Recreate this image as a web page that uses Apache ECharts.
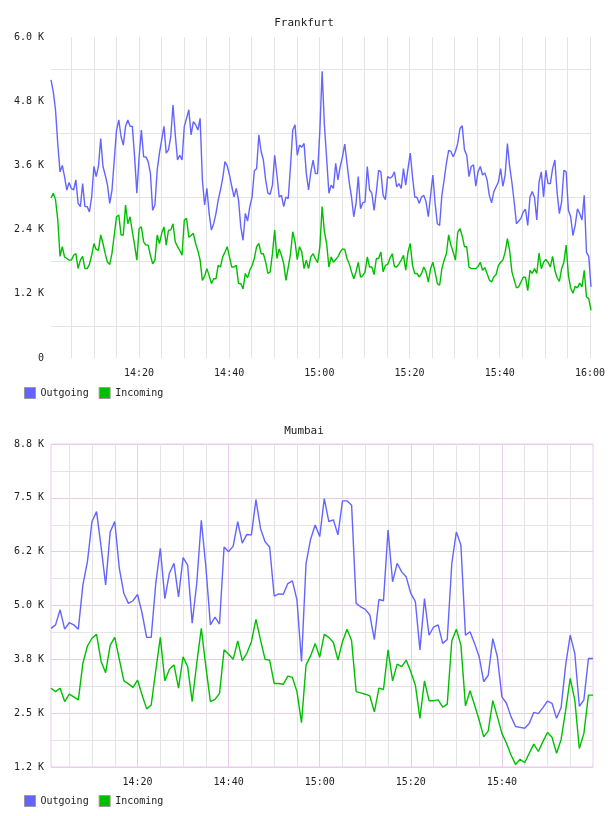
<!DOCTYPE html>
<html>
<head>
<meta charset="utf-8">
<script src="https://cdn.jsdelivr.net/npm/echarts@6/dist/echarts.min.js"></script>
<style>
  html, body { margin: 0; padding: 0; background: #fff; }
  #chart { width: 608px; height: 816px; }
</style>
</head>
<body>
<div id="chart"></div>
<script>
// Frankfurt: one sample every 30 s from 14:00:30 to 16:00:00 (values in K)
const frankfurtOutgoing = [
  5.2, 4.98, 4.64, 4.0, 3.48, 3.6, 3.39, 3.14, 3.28, 3.17,
  3.14, 3.33, 2.89, 2.83, 3.26, 2.83, 2.83, 2.73, 3.01, 3.58,
  3.39, 3.58, 4.1, 3.58, 3.42, 3.23, 2.89, 3.14, 3.7, 4.26,
  4.45, 4.14, 3.98, 4.33, 4.45, 4.33, 4.33, 3.76, 3.08, 3.76,
  4.26, 3.76, 3.76, 3.67, 3.45, 2.76, 2.86, 3.51, 3.83, 4.08,
  4.33, 3.83, 3.89, 4.14, 4.73, 4.17, 3.7, 3.79, 3.7, 4.33,
  4.48, 4.64, 4.17, 4.42, 4.36, 4.26, 4.48, 3.33, 2.86, 3.17,
  2.7, 2.39, 2.51, 2.7, 2.95, 3.14, 3.36, 3.67, 3.59, 3.42,
  3.21, 3.01, 3.17, 2.95, 2.45, 2.2, 2.7, 2.56, 2.83, 3.01,
  3.5, 3.54, 4.17, 3.86, 3.7, 3.33, 3.08, 3.06, 3.23, 3.79,
  3.42, 3.01, 3.04, 2.83, 3.01, 2.98, 3.58, 4.26, 4.36, 3.79,
  3.98, 3.94, 4.01, 3.45, 3.14, 3.48, 3.7, 3.45, 3.45, 4.26,
  5.36, 4.36, 3.73, 3.08, 3.23, 3.17, 3.64, 3.33, 3.58, 3.76,
  4.0, 3.64, 3.28, 3.01, 2.64, 2.89, 3.39, 2.79, 2.9, 2.92,
  3.58, 3.14, 3.08, 2.76, 3.11, 3.51, 3.48, 3.04, 2.96, 3.39,
  3.36, 3.39, 3.48, 3.2, 3.26, 3.17, 3.54, 3.23, 3.54, 3.83,
  3.39, 3.01, 3.0, 2.89, 3.01, 3.04, 2.92, 2.64, 3.04, 3.42,
  2.89, 2.51, 2.48, 3.04, 3.33, 3.64, 3.88, 3.86, 3.76, 3.86,
  4.01, 4.29, 4.34, 3.89, 3.79, 3.39, 3.58, 3.61, 3.21, 3.48,
  3.58, 3.42, 3.46, 3.33, 3.04, 2.9, 3.11, 3.2, 3.29, 3.54,
  3.21, 3.42, 4.01, 3.58, 3.28, 2.92, 2.51, 2.56, 2.61, 2.73,
  2.78, 2.48, 3.01, 3.11, 3.0, 2.58, 3.29, 3.48, 3.01, 3.51,
  3.26, 3.26, 3.54, 3.7, 3.09, 2.7, 2.92, 3.51, 3.48, 2.76,
  2.64, 2.29, 2.48, 2.79, 2.7, 2.58, 3.04, 1.98, 1.9, 1.33
]
const frankfurtIncoming = [
  2.99, 3.08, 2.96, 2.58, 1.9, 2.08, 1.89, 1.86, 1.83, 1.83,
  1.92, 1.95, 1.67, 1.83, 1.9, 1.67, 1.67, 1.75, 1.92, 2.14,
  2.03, 2.01, 2.3, 2.14, 1.95, 1.79, 1.75, 1.96, 2.3, 2.64,
  2.67, 2.3, 2.3, 2.86, 2.51, 2.64, 2.36, 2.11, 1.83, 2.42,
  2.45, 2.17, 2.11, 2.11, 1.92, 1.76, 1.83, 2.3, 2.14, 2.33,
  2.45, 2.11, 2.39, 2.39, 2.51, 2.17, 2.08, 2.01, 1.92, 2.58,
  2.61, 2.26, 2.29, 2.33, 2.14, 2.01, 1.83, 1.45, 1.53, 1.67,
  1.54, 1.39, 1.48, 1.48, 1.73, 1.7, 1.89, 1.98, 2.08, 1.89,
  1.7, 1.7, 1.73, 1.39, 1.39, 1.29, 1.58, 1.5, 1.64, 1.73,
  1.86, 2.08, 2.14, 1.95, 1.95, 1.79, 1.58, 1.61, 1.95, 2.39,
  1.86, 2.04, 1.92, 1.76, 1.45, 1.7, 1.94, 2.36, 2.17, 1.84,
  2.08, 1.98, 1.67, 1.83, 1.67, 1.89, 1.95, 1.86, 1.78, 2.08,
  2.83, 2.36, 2.14, 1.7, 1.89, 1.79, 1.84, 1.89, 1.98, 2.04,
  2.03, 1.86, 1.76, 1.61, 1.48, 1.61, 1.79, 1.51, 1.54, 1.61,
  1.89, 1.7, 1.7, 1.56, 1.86, 1.86, 1.98, 1.61, 1.73, 1.75,
  1.86, 1.95, 1.71, 1.7, 1.76, 1.83, 1.92, 1.64, 1.98, 2.14,
  1.73, 1.58, 1.58, 1.51, 1.58, 1.7, 1.61, 1.42, 1.67, 1.79,
  1.61, 1.39, 1.36, 1.67, 1.83, 1.95, 2.3, 2.11, 1.98, 1.83,
  2.35, 2.42, 2.28, 2.08, 2.08, 1.7, 1.67, 1.67, 1.67, 1.71,
  1.79, 1.64, 1.69, 1.58, 1.46, 1.42, 1.52, 1.56, 1.73, 1.79,
  1.83, 1.98, 2.23, 2.01, 1.61, 1.46, 1.31, 1.33, 1.42, 1.51,
  1.51, 1.26, 1.64, 1.58, 1.67, 1.58, 1.96, 1.67, 1.79, 1.84,
  1.79, 1.7, 1.9, 1.64, 1.5, 1.43, 1.67, 1.79, 2.11, 1.54,
  1.31, 1.21, 1.34, 1.31, 1.4, 1.33, 1.64, 1.14, 1.11, 0.89
]

// Mumbai: one sample per minute from 14:01 to 16:00 (values in K)
const mumbaiOutgoing = [
  4.47, 4.55, 4.9, 4.45, 4.6, 4.55, 4.45, 5.48, 6.02, 6.95,
  7.18, 6.36, 5.48, 6.71, 6.95, 5.86, 5.28, 5.05, 5.11, 5.26,
  4.82, 4.26, 4.26, 5.51, 6.33, 5.16, 5.75, 5.98, 5.2, 6.11,
  5.94, 4.59, 5.51, 6.98, 5.9, 4.55, 4.73, 4.57, 6.36, 6.25,
  6.38, 6.95, 6.45, 6.65, 6.64, 7.46, 6.79, 6.48, 6.36, 5.22,
  5.27, 5.26, 5.51, 5.57, 5.13, 3.7, 5.98, 6.54, 6.87, 6.6,
  7.48, 6.95, 6.99, 6.64, 7.43, 7.43, 7.33, 5.05, 4.97, 4.91,
  4.78, 4.21, 5.14, 5.11, 6.75, 5.55, 5.98, 5.78, 5.66, 5.28,
  5.09, 3.97, 5.16, 4.31, 4.5, 4.55, 4.12, 4.21, 5.98, 6.71,
  6.4, 4.31, 4.39, 4.12, 3.81, 3.23, 3.38, 4.23, 3.81, 2.88,
  2.73, 2.42, 2.19, 2.17, 2.15, 2.26, 2.52, 2.49, 2.63, 2.78,
  2.73, 2.38, 2.63, 3.62, 4.31, 3.89, 2.66, 2.81, 3.77, 3.77
]
const mumbaiIncoming = [
  3.08, 3.0, 3.08, 2.77, 2.94, 2.88, 2.81, 3.66, 4.06, 4.24,
  4.33, 3.7, 3.44, 4.08, 4.26, 3.75, 3.25, 3.18, 3.1, 3.27,
  2.92, 2.6, 2.69, 3.49, 4.26, 3.25, 3.52, 3.62, 3.08, 3.81,
  3.58, 2.77, 3.66, 4.47, 3.58, 2.77, 2.82, 2.96, 3.97, 3.87,
  3.75, 4.18, 3.72, 3.89, 4.16, 4.68, 4.2, 3.75, 3.73, 3.19,
  3.19, 3.17, 3.36, 3.33, 3.0, 2.28, 3.62, 3.83, 4.12, 3.8,
  4.33, 4.26, 4.14, 3.73, 4.16, 4.45, 4.18, 3.0, 2.97, 2.94,
  2.9, 2.53, 3.08, 3.05, 3.97, 3.25, 3.64, 3.58, 3.73, 3.46,
  3.15, 2.38, 3.25, 2.79, 2.79, 2.81, 2.64, 2.71, 4.18, 4.45,
  4.08, 2.67, 3.02, 2.69, 2.34, 1.95, 2.09, 2.79, 2.42, 2.03,
  1.8, 1.53, 1.31, 1.43, 1.35, 1.57, 1.78, 1.61, 1.84, 2.05,
  1.94, 1.57, 1.89, 2.57, 3.31, 2.81, 1.68, 2.03, 2.92, 2.92
]

const frankfurtTickLabels = ['0', '1.2 K', '2.4 K', '3.6 K', '4.8 K', '6.0 K']
const mumbaiTickLabels = ['1.2 K', '2.5 K', '3.8 K', '5.0 K', '6.2 K', '7.5 K', '8.8 K']

// x values are minutes after 14:00
const frankfurtStep = 0.5
const frankfurtFirst = 0.5
const mumbaiStep = 1
const mumbaiFirst = 1

const toPairs = (values, first, step) => values.map((v, i) => [first + i * step, v])

const FONT = 'DejaVu Sans Mono'
const BLUE = '#6464ff'
const GREEN = '#00bf00'
const GRAY = '#e4e4e4'
const PINK = '#e8cce8'

const pad = (n) => (n < 10 ? '0' + n : '' + n)

const timeLabel = (showEnd) => (v) => {
  if (v <= 0) return ''
  if (v >= 120 && !showEnd) return ''
  const h = 14 + Math.floor(v / 60)
  const m = Math.round(v % 60)
  return pad(h) + ':' + pad(m)
}

const labelStyle = { fontFamily: FONT, fontSize: 10, color: '#222' }

const chart = echarts.init(document.getElementById('chart'))

// the "clock" grids span 14:00..16:00 and carry the time grid lines and labels;
// the data grids start at the first sample, as the original plots do
const topPlot = { top: 37, height: 321, right: 17 }
const bottomPlot = { top: 444, height: 323, right: 15 }
const topPxPerMin = (608 - 17 - 51) / (120 - frankfurtFirst)
const bottomPxPerMin = (608 - 15 - 51) / (120 - mumbaiFirst)

const option = {
  animation: false,
  textStyle: { fontFamily: FONT },
  title: [
    { text: 'Frankfurt', left: 'center', top: 13, textStyle: { fontFamily: FONT, fontSize: 11, fontWeight: 'normal', color: '#222' } },
    { text: 'Mumbai', left: 'center', top: 421, textStyle: { fontFamily: FONT, fontSize: 11, fontWeight: 'normal', color: '#222' } }
  ],
  legend: [
    {
      left: 24, top: 387, padding: 0, itemWidth: 11, itemHeight: 11, itemGap: 10,
      icon: 'rect', data: ['Outgoing', 'Incoming'], selectedMode: false,
      itemStyle: { borderColor: '#999', borderWidth: 1 },
      textStyle: labelStyle
    },
    {
      left: 24, top: 795, padding: 0, itemWidth: 11, itemHeight: 11, itemGap: 10,
      icon: 'rect', data: ['Outgoing', 'Incoming'], selectedMode: false,
      itemStyle: { borderColor: '#999', borderWidth: 1 },
      textStyle: labelStyle
    }
  ],
  grid: [
    { left: 51, right: topPlot.right, top: topPlot.top, height: topPlot.height, show: false },
    { left: 51 - frankfurtFirst * topPxPerMin, right: topPlot.right, top: topPlot.top, height: topPlot.height, show: false },
    { left: 51, right: bottomPlot.right, top: bottomPlot.top, height: bottomPlot.height, show: true, borderColor: PINK, borderWidth: 1 },
    { left: 51 - mumbaiFirst * bottomPxPerMin, right: bottomPlot.right, top: bottomPlot.top, height: bottomPlot.height, show: false }
  ],
  xAxis: [
    { type: 'value', gridIndex: 0, min: frankfurtFirst, max: 120, show: false },
    {
      type: 'value', gridIndex: 1, min: 0, max: 120, interval: 20,
      axisLine: { show: false }, axisTick: { show: false },
      axisLabel: Object.assign({ formatter: timeLabel(true), margin: 10 }, labelStyle),
      splitLine: { show: true, showMinLine: false, lineStyle: { color: GRAY, width: 1 } },
      minorTick: { show: false, splitNumber: 4 },
      minorSplitLine: { show: true, lineStyle: { color: GRAY, width: 1 } }
    },
    { type: 'value', gridIndex: 2, min: mumbaiFirst, max: 120, show: false },
    {
      type: 'value', gridIndex: 3, min: 0, max: 120, interval: 20,
      axisLine: { show: false }, axisTick: { show: false },
      axisLabel: Object.assign({ formatter: timeLabel(false), margin: 10 }, labelStyle),
      splitLine: { show: true, showMinLine: false, showMaxLine: false, lineStyle: { color: PINK, width: 1 } },
      minorTick: { show: false, splitNumber: 4 },
      minorSplitLine: { show: true, lineStyle: { color: GRAY, width: 1 } }
    }
  ],
  yAxis: [
    {
      type: 'value', gridIndex: 0, min: 0, max: 6, interval: 1.2,
      axisLine: { show: false }, axisTick: { show: false },
      axisLabel: Object.assign({ margin: 7, formatter: (v) => frankfurtTickLabels[Math.round(v / 1.2)] }, labelStyle),
      splitLine: { show: false },
      minorTick: { show: false, splitNumber: 2 },
      minorSplitLine: { show: true, lineStyle: { color: GRAY, width: 1 } }
    },
    { type: 'value', gridIndex: 1, min: 0, max: 6, show: false },
    {
      type: 'value', gridIndex: 2, min: 1.25, max: 8.75, interval: 1.25,
      axisLine: { show: false }, axisTick: { show: false },
      axisLabel: Object.assign({ margin: 7, formatter: (v) => mumbaiTickLabels[Math.round((v - 1.25) / 1.25)] }, labelStyle),
      splitLine: { show: true, lineStyle: { color: PINK, width: 1 } },
      minorTick: { show: false, splitNumber: 2 },
      minorSplitLine: { show: true, lineStyle: { color: GRAY, width: 1 } }
    },
    { type: 'value', gridIndex: 3, min: 1.25, max: 8.75, show: false }
  ],
  series: [
    {
      name: 'Outgoing', type: 'line', xAxisIndex: 0, yAxisIndex: 0,
      data: toPairs(frankfurtOutgoing, frankfurtFirst, frankfurtStep),
      showSymbol: false, color: BLUE, lineStyle: { width: 1.4, color: BLUE }
    },
    {
      name: 'Incoming', type: 'line', xAxisIndex: 0, yAxisIndex: 0,
      data: toPairs(frankfurtIncoming, frankfurtFirst, frankfurtStep),
      showSymbol: false, color: GREEN, lineStyle: { width: 1.4, color: GREEN }
    },
    {
      name: 'Outgoing', type: 'line', xAxisIndex: 2, yAxisIndex: 2,
      data: toPairs(mumbaiOutgoing, mumbaiFirst, mumbaiStep),
      showSymbol: false, color: BLUE, lineStyle: { width: 1.4, color: BLUE }
    },
    {
      name: 'Incoming', type: 'line', xAxisIndex: 2, yAxisIndex: 2,
      data: toPairs(mumbaiIncoming, mumbaiFirst, mumbaiStep),
      showSymbol: false, color: GREEN, lineStyle: { width: 1.4, color: GREEN }
    }
  ]
}

chart.setOption(option)
</script>
</body>
</html>
